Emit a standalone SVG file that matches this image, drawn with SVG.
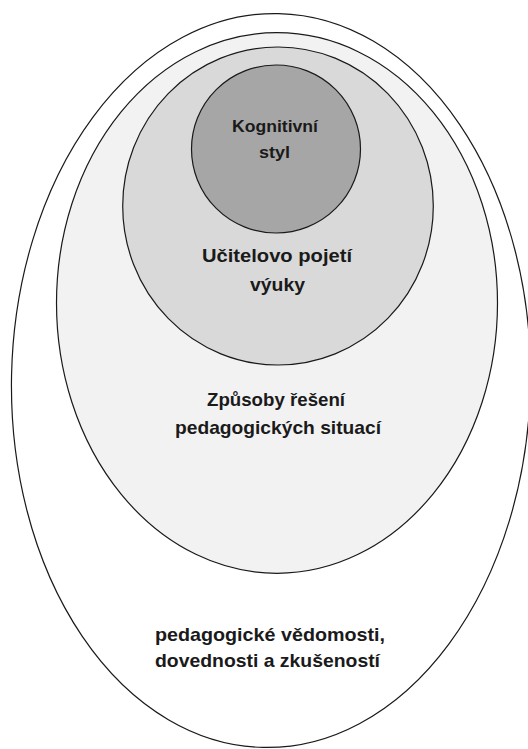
<svg xmlns="http://www.w3.org/2000/svg" width="528" height="749" viewBox="0 0 528 749">
<style>
.sh{stroke:#1a1a1a;stroke-width:1.2}
.t{font-family:"Liberation Sans",Arial,sans-serif;font-weight:bold;fill:#1a1a1a;text-anchor:middle}
.big{font-size:18.5px}
.sm{font-size:16.5px}
</style>
<rect width="528" height="749" fill="#ffffff"/>
<g id="outer">
<ellipse class="sh" cx="271" cy="380.5" rx="259.5" ry="367" fill="#ffffff" transform="rotate(1.2 271 380.5)"/>
<text class="t big" x="270" y="641" textLength="230" lengthAdjust="spacingAndGlyphs">pedagogické vědomosti,</text>
<text class="t big" x="267.5" y="667" textLength="225" lengthAdjust="spacingAndGlyphs">dovednosti a zkušeností</text>
</g>
<g id="situace">
<ellipse class="sh" cx="277" cy="303" rx="220.5" ry="270.3" fill="#f2f2f2"/>
<text class="t big" x="276" y="406" textLength="138" lengthAdjust="spacingAndGlyphs">Způsoby řešení</text>
<text class="t big" x="278" y="434" textLength="206" lengthAdjust="spacingAndGlyphs">pedagogických situací</text>
</g>
<g id="pojeti">
<ellipse class="sh" cx="278" cy="206" rx="155.3" ry="159" fill="#d9d9d9"/>
<text class="t big" x="277" y="262" textLength="150" lengthAdjust="spacingAndGlyphs">Učitelovo pojetí</text>
<text class="t big" x="277.5" y="291" textLength="55" lengthAdjust="spacingAndGlyphs">výuky</text>
</g>
<g id="styl">
<ellipse class="sh" cx="276" cy="149" rx="84.5" ry="84" fill="#a6a6a6"/>
<text class="t sm" x="275" y="132" textLength="86" lengthAdjust="spacingAndGlyphs">Kognitivní</text>
<text class="t sm" x="274.5" y="158" textLength="31" lengthAdjust="spacingAndGlyphs">styl</text>
</g>
<g id="connectors"></g>
</svg>
